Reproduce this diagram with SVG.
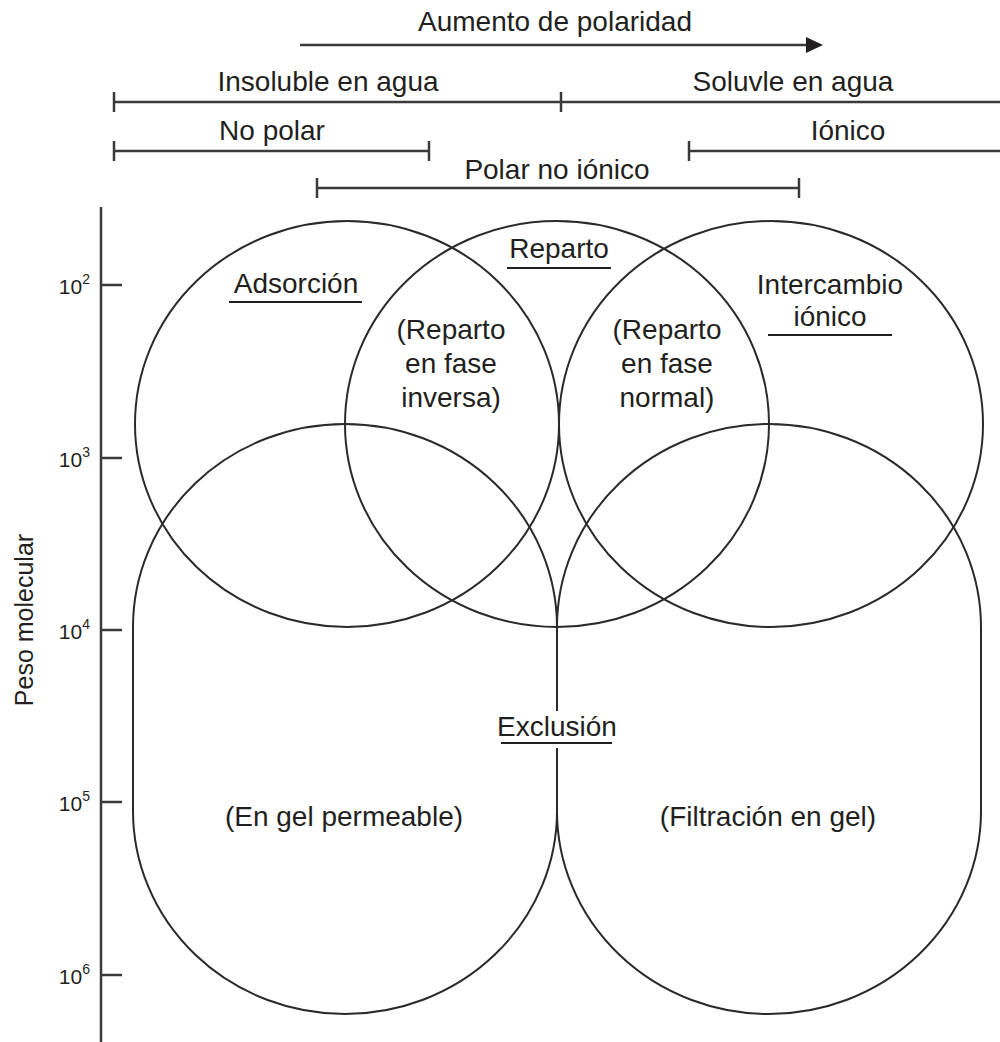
<svg xmlns="http://www.w3.org/2000/svg" width="1000" height="1042" viewBox="0 0 1000 1042">
<style>
text{font-family:"Liberation Sans",Arial,sans-serif;fill:#231f20}
.lb{font-size:28px;text-anchor:middle}
.tk{font-size:21px;text-anchor:end}
.sp{font-size:14px}
.sh{fill:none;stroke:#2a2a2a;stroke-width:2}
.ln{stroke:#3a3a3a;stroke-width:2.5;fill:none}
.ul{stroke:#231f20;stroke-width:2}
</style>
<rect width="1000" height="1042" fill="#fff"/>
<g id="scale-top">
<text class="lb" x="555" y="31">Aumento de polaridad</text>
<line x1="300" y1="45" x2="808" y2="45" class="ln" stroke="#231f20"/>
<path d="M806,37 L823,45 L806,53 Z" fill="#231f20"/>
<text class="lb" x="328" y="91">Insoluble en agua</text>
<text class="lb" x="793" y="91">Soluvle en agua</text>
<line x1="114" y1="102" x2="1000" y2="102" class="ln"/>
<line x1="114" y1="92" x2="114" y2="112" class="ln"/>
<line x1="561" y1="92" x2="561" y2="112" class="ln"/>
<text class="lb" x="272" y="140">No polar</text>
<line x1="114" y1="151" x2="429" y2="151" class="ln"/>
<line x1="114" y1="141" x2="114" y2="161" class="ln"/>
<line x1="429" y1="141" x2="429" y2="161" class="ln"/>
<text class="lb" x="848" y="140">Iónico</text>
<line x1="689" y1="151" x2="1000" y2="151" class="ln"/>
<line x1="689" y1="141" x2="689" y2="161" class="ln"/>
<text class="lb" x="557" y="179">Polar no iónico</text>
<line x1="317" y1="188" x2="799" y2="188" class="ln"/>
<line x1="317" y1="178" x2="317" y2="198" class="ln"/>
<line x1="799" y1="178" x2="799" y2="198" class="ln"/>
</g>
<g id="axis">
<line x1="101" y1="207" x2="101" y2="1042" class="ln"/>
<line x1="101" y1="285" x2="122" y2="285" class="ln"/>
<line x1="101" y1="458" x2="122" y2="458" class="ln"/>
<line x1="101" y1="630" x2="122" y2="630" class="ln"/>
<line x1="101" y1="802" x2="122" y2="802" class="ln"/>
<line x1="101" y1="975" x2="122" y2="975" class="ln"/>
<text class="tk" x="90" y="294">10<tspan class="sp" dy="-10">2</tspan></text>
<text class="tk" x="90" y="467">10<tspan class="sp" dy="-10">3</tspan></text>
<text class="tk" x="90" y="639">10<tspan class="sp" dy="-10">4</tspan></text>
<text class="tk" x="90" y="811">10<tspan class="sp" dy="-10">5</tspan></text>
<text class="tk" x="90" y="984">10<tspan class="sp" dy="-10">6</tspan></text>
<text x="0" y="0" font-size="25" text-anchor="middle" transform="translate(33,620) rotate(-90)">Peso molecular</text>
</g>
<g id="adsorcion">
<ellipse cx="347" cy="424" rx="212" ry="203" class="sh"/>
<text class="lb" x="296" y="293">Adsorción</text>
<line x1="229" y1="302" x2="362" y2="302" class="ul"/>
</g>
<g id="reparto">
<ellipse cx="557" cy="424" rx="212" ry="203" class="sh"/>
<text class="lb" x="559" y="258">Reparto</text>
<line x1="507" y1="268" x2="611" y2="268" class="ul"/>
<text class="lb" x="451" y="339">(Reparto</text>
<text class="lb" x="451" y="373">en fase</text>
<text class="lb" x="451" y="407">inversa)</text>
<text class="lb" x="667" y="339">(Reparto</text>
<text class="lb" x="667" y="373">en fase</text>
<text class="lb" x="667" y="407">normal)</text>
</g>
<g id="intercambio">
<ellipse cx="771" cy="424" rx="212" ry="203" class="sh"/>
<text class="lb" x="830" y="294">Intercambio</text>
<text class="lb" x="830" y="326">iónico</text>
<line x1="768" y1="335" x2="892" y2="335" class="ul"/>
</g>
<g id="gel-permeable">
<path class="sh" d="M133,627 A212,203 0 0 1 557,627 L557,811 A212,203 0 0 1 133,811 Z"/>
<text class="lb" x="344" y="826">(En gel permeable)</text>
</g>
<g id="filtracion-gel">
<path class="sh" d="M557,627 A212,203 0 0 1 981,627 L981,811 A212,203 0 0 1 557,811 Z"/>
<text class="lb" x="768" y="826">(Filtración en gel)</text>
</g>
<g id="exclusion">
<rect x="496" y="711" width="122" height="37" fill="#fff"/>
<text class="lb" x="557" y="736">Exclusión</text>
<line x1="501" y1="743" x2="612" y2="743" class="ul"/>
</g>
</svg>
